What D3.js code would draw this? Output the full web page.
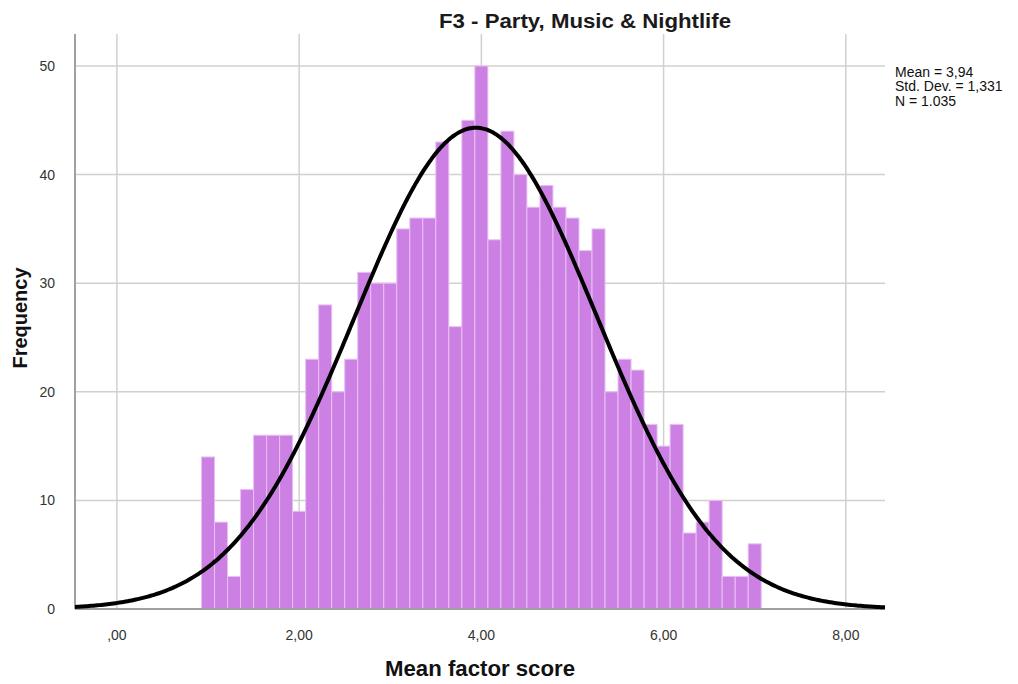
<!DOCTYPE html>
<html><head><meta charset="utf-8">
<script src="https://cdn.jsdelivr.net/npm/d3@7"></script>
<style>body{margin:0;background:#fff;font-family:"Liberation Sans",Arial,sans-serif;}</style>
</head><body><svg id="c" width="1018" height="684"></svg>
<script>
const binStart = 1 - 1/14;
const binWidth = 1/7;
const counts = [14,8,3,11,16,16,16,9,23,28,20,23,31,30,30,35,36,36,43,26,45,50,34,44,40,37,39,37,36,33,35,20,23,22,17,15,17,7,8,10,3,3,6];
const xTicks = [0,2,4,6,8];
const xTickLabels = [",00","2,00","4,00","6,00","8,00"];
const yTicks = [0,10,20,30,40,50];
const stats = {mean:3.94, sd:1.331, n:1035};
const legendLines = ["Mean = 3,94","Std. Dev. = 1,331","N = 1.035"];
const title = "F3 - Party, Music & Nightlife";

const svg = d3.select("#c");
const L=75,R=885,T=34,B=609;
const x = d3.scaleLinear().domain([-0.46,8.43]).range([L,R]);
const y = d3.scaleLinear().domain([0,(B-T)/10.86]).range([B,T]);

// grid
svg.append("g").selectAll("line").data(yTicks.filter(d=>d>0)).join("line")
  .attr("x1",L).attr("x2",R).attr("y1",d=>y(d)).attr("y2",d=>y(d))
  .attr("stroke","#d0d0d0").attr("stroke-width",1.5);
svg.append("g").selectAll("line").data(xTicks).join("line")
  .attr("x1",d=>x(d)).attr("x2",d=>x(d)).attr("y1",T).attr("y2",B)
  .attr("stroke","#d0d0d0").attr("stroke-width",1.5);

// bars
const bins = counts.map((c,i)=>({x0:binStart+i*binWidth,x1:binStart+(i+1)*binWidth,c}));
svg.append("g").selectAll("rect").data(bins).join("rect")
  .attr("x",d=>x(d.x0)).attr("width",d=>x(d.x1)-x(d.x0))
  .attr("y",d=>y(d.c)).attr("height",d=>y(0)-y(d.c))
  .attr("fill","#cc80e4").attr("stroke","#e8c0f2").attr("stroke-width",1);

// axes lines
svg.append("line").attr("x1",L).attr("x2",L).attr("y1",T).attr("y2",B).attr("stroke","#a0a0a0").attr("stroke-width",2);
svg.append("line").attr("x1",L).attr("x2",R).attr("y1",B).attr("y2",B).attr("stroke","#a0a0a0").attr("stroke-width",2);

// normal curve
const pdf = v => stats.n*binWidth/(stats.sd*Math.sqrt(2*Math.PI))*Math.exp(-0.5*((v-stats.mean)/stats.sd)**2);
const pts = d3.range(0,401).map(i=>{const v=-0.46+(8.43+0.46)*i/400;return [v,pdf(v)];});
svg.append("path").datum(pts)
  .attr("d",d3.line().x(d=>x(d[0])).y(d=>y(d[1])).curve(d3.curveBasis))
  .attr("fill","none").attr("stroke","#000").attr("stroke-width",4);

// tick labels
svg.append("g").selectAll("text").data(yTicks).join("text")
  .attr("x",55).attr("y",d=>y(d)+5).attr("text-anchor","end")
  .attr("font-size",14).attr("fill","#333").text(d=>d);
svg.append("g").selectAll("text").data(xTicks).join("text")
  .attr("x",d=>x(d)).attr("y",640).attr("text-anchor","middle")
  .attr("font-size",14).attr("fill","#333")
  .text((d,i)=>xTickLabels[i]);

// titles
svg.append("text").attr("x",585).attr("y",28).attr("text-anchor","middle")
  .attr("font-size",20).attr("font-weight","bold").attr("fill","#1a1a1a")
  .attr("textLength",292).attr("lengthAdjust","spacingAndGlyphs").text(title);
svg.append("text").attr("x",480).attr("y",676).attr("text-anchor","middle")
  .attr("font-size",22).attr("font-weight","bold").attr("fill","#111")
  .attr("textLength",190).attr("lengthAdjust","spacingAndGlyphs").text("Mean factor score");
svg.append("text").attr("transform","translate(27,318) rotate(-90)").attr("text-anchor","middle")
  .attr("font-size",21).attr("font-weight","bold").attr("fill","#111")
  .attr("textLength",101).attr("lengthAdjust","spacingAndGlyphs").text("Frequency");

// legend
svg.append("g").selectAll("text").data(legendLines).join("text")
  .attr("x",895).attr("y",(d,i)=>77+i*14.3).attr("font-size",14).attr("fill","#111").text(d=>d);
</script></body></html>
